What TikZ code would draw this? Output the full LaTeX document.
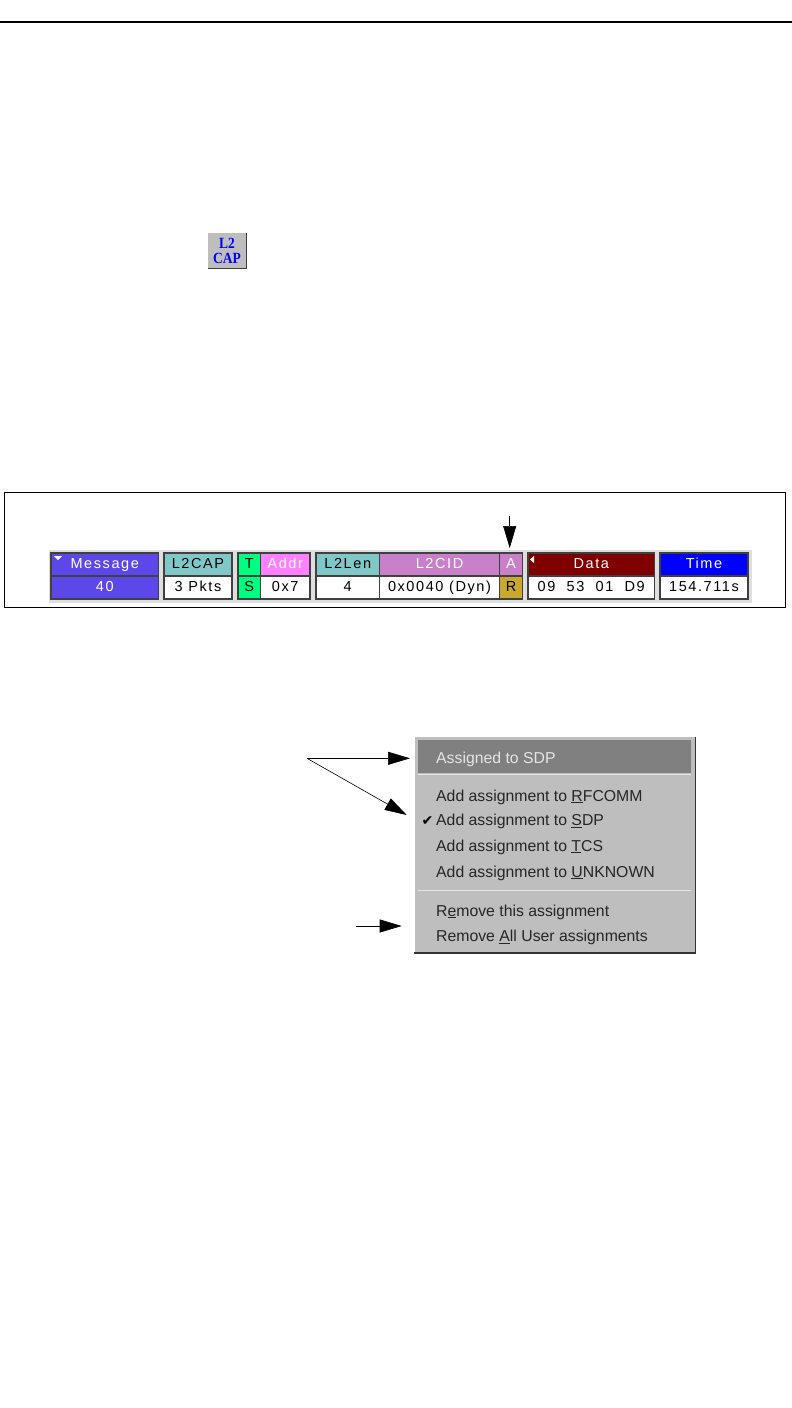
\documentclass[tikz,border=0pt]{standalone}
\usepackage{fontspec}
\usetikzlibrary{arrows.meta}
\setmainfont{Liberation Sans}
\newfontfamily\cellfont[LetterSpace=11]{Liberation Sans}
\newfontfamily\iconfont{Liberation Serif}
\newfontfamily\checkfont{DejaVu Sans}
\definecolor{msgblue}{HTML}{5C48E8}
\definecolor{capteal}{HTML}{80C8C8}
\definecolor{tsgreen}{HTML}{00FF80}
\definecolor{addrpink}{HTML}{FF80FF}
\definecolor{cidorchid}{HTML}{C880C8}
\definecolor{datared}{HTML}{800000}
\definecolor{timeblue}{HTML}{0000FF}
\definecolor{resgold}{HTML}{C8A830}
\definecolor{menugray}{HTML}{BEBEBE}
\begin{document}
\begin{tikzpicture}[x=1pt, y=-1pt,
  Cell/.style={draw=black!75, line width=1.2pt, inner sep=0pt, minimum height=23pt, text height=10.5pt, text depth=2pt,
    font=\cellfont\fontsize{14.5}{16}\selectfont},
  MenuRow/.style={anchor=base west, inner sep=0pt, text=black!85, font=\fontsize{15.8}{18}\selectfont},
  Pointer/.style={-{Triangle[length=22pt, width=13pt]}, line width=0.6pt}]
\useasboundingbox (0,0) rectangle (792,1408);

\draw [line width=1.5pt] (0,22) -- (792,22);

% toolbar button
\node [fill=menugray, draw=none, minimum width=38pt, minimum height=35pt, inner sep=0pt, align=center, text=timeblue,
  font=\iconfont\bfseries\fontsize{13.5}{15}\selectfont] (l2capicon) at (227,250.5) {\scalebox{1}[1.15]{L2}\\\scalebox{1}[1.15]{CAP}};
\draw [white, line width=1pt] (l2capicon.south west) -- (l2capicon.north west) -- (l2capicon.north east);
\draw [black!75, line width=1.2pt] (l2capicon.north east) -- (l2capicon.south east) -- (l2capicon.south west);

% record
\node [draw, line width=0.8pt, minimum width=781pt, minimum height=115pt, inner sep=0pt] (frame) at (395,549.5) {};
\node [fill=black!13, minimum width=703pt, minimum height=52.5pt, inner sep=0pt] (strip) at (400.5,576.3) {};

\foreach \name/\xa/\xb/\fillh/\texth/\head/\fillv/\textv/\val in {
  message/51/158.5/msgblue/white/Message/msgblue/white/40,
  ltwocap/164/232/capteal/black/L2CAP/white/black/3 Pkts,
  ts/238/260.5/tsgreen/black/T/tsgreen/black/S,
  addr/260.5/310/addrpink/white/Addr/white/black/0x7,
  ltwolen/316/379.5/capteal/black/L2Len/white/black/4,
  ltwocid/379.5/499.5/cidorchid/white/L2CID/white/black/0x0040 (Dyn),
  ar/499.5/522.5/cidorchid/white/A/resgold/black/R,
  data/528/654.5/datared/white/Data/white/black/09\ \ 53\ \ 01\ \ D9,
  time/660/748/timeblue/white/Time/white/black/154.711s} {
  \node [Cell, fill=\fillh, text=\texth, minimum width=\xb-\xa] (\name head) at ({(\xa+\xb)/2},564.5) {\head};
  \node [Cell, fill=\fillv, text=\textv, minimum width=\xb-\xa] (\name val) at ({(\xa+\xb)/2},587.5) {\val};
}

\fill [white] (54,556) -- (62,556) -- (58,560) -- cycle;
\fill [white] (534,556) -- (534,563) -- (530,559.5) -- cycle;

\coordinate (artop) at (509.7,516);
\coordinate (arend) at (509.7,548);
\draw [Pointer] (artop) -- (arend);

% popup menu
\node [fill=menugray, minimum width=281pt, minimum height=216pt, inner sep=0pt] (menu) at (555,845) {};
\draw [white, line width=1pt] (menu.south west) -- (menu.north west) -- (menu.north east);
\draw [black!80, line width=1.5pt] (menu.north east) -- (menu.south east) -- (menu.south west);
\node [fill=black!50, minimum width=273pt, minimum height=33pt, inner sep=0pt] (hilite) at (554.5,756.5) {};
\draw [white!90!black, line width=1pt] (418,774.5) -- (691,774.5);
\draw [white!90!black, line width=1pt] (418,890) -- (691,890);

\node [MenuRow, text=white!90!black] (assigned) at (436,763) {Assigned to SDP};
\node [MenuRow] (rfcomm) at (436,801) {Add assignment to \underline{R}FCOMM};
\node [MenuRow] (sdp) at (436,825.5) {Add assignment to \underline{S}DP};
\node [MenuRow] (tcs) at (436,851) {Add assignment to \underline{T}CS};
\node [MenuRow] (unknown) at (436,877) {Add assignment to \underline{U}NKNOWN};
\node [MenuRow] (removeone) at (436,916) {R\underline{e}move this assignment};
\node [MenuRow] (removeall) at (436,941.5) {Remove \underline{A}ll User assignments};
\node [anchor=center, inner sep=0pt, font=\checkfont\fontsize{14}{16}\selectfont] (check) at (427.5,821) {✔};

\coordinate (fork) at (307,758.3);
\coordinate (forktop) at (410,758.3);
\coordinate (forkend) at (406.7,815);
\coordinate (removestart) at (356,926);
\coordinate (removeend) at (401.7,926);
\draw [Pointer] (fork) -- (forktop);
\draw [Pointer] (fork) -- (forkend);
\draw [Pointer] (removestart) -- (removeend);
\end{tikzpicture}
\end{document}
